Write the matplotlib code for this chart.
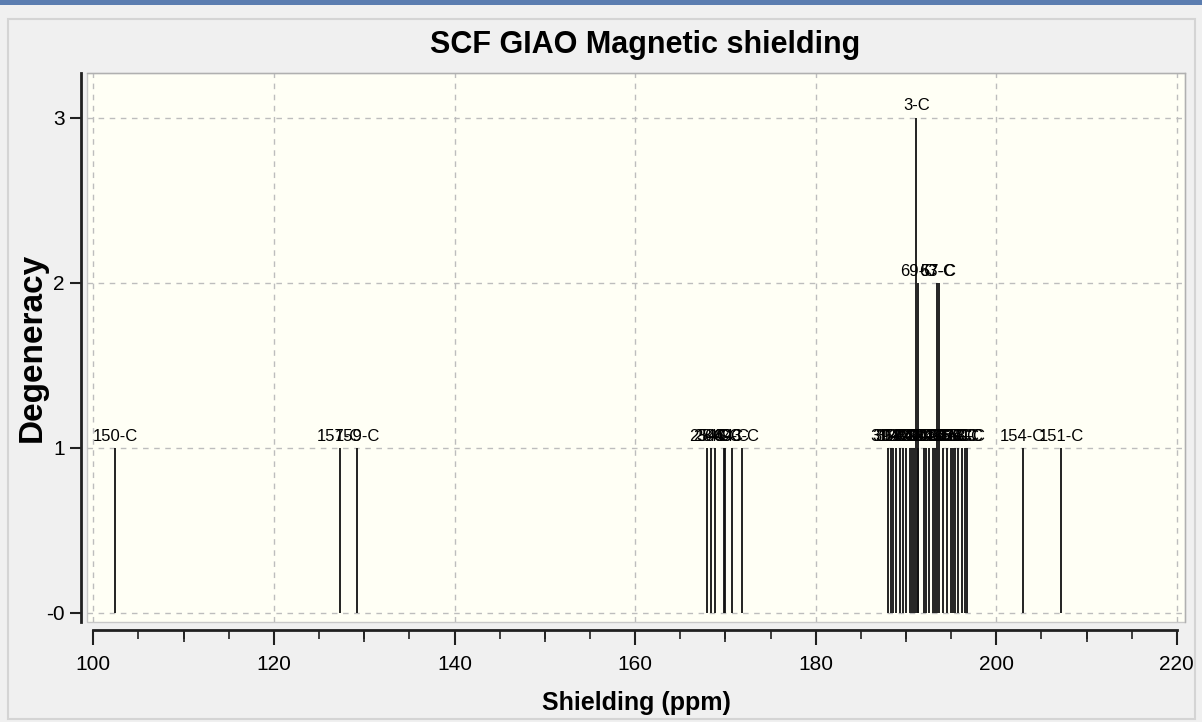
import matplotlib.pyplot as plt
from matplotlib.patches import Rectangle
from matplotlib.ticker import MultipleLocator

plt.rcParams['font.family'] = ['Liberation Sans', 'DejaVu Sans']

# shielding values (ppm), degeneracy and atom labels
shielding = [102.4, 127.3, 129.2,
             168.0, 168.44, 168.8, 169.85, 170.0, 170.72, 171.8,
             188.03, 188.29, 188.60, 188.90, 189.29, 189.62, 190.03, 190.39,
             190.70, 190.92, 191.38, 191.94, 192.27, 192.60, 192.95, 193.25,
             194.05, 194.50, 194.94, 195.16, 195.39, 195.72, 196.16, 196.50,
             196.72,
             191.30, 193.40, 193.62,
             191.16,
             202.93, 207.18]
degeneracy = [1, 1, 1,
              1, 1, 1, 1, 1, 1, 1,
              1, 1, 1, 1, 1, 1, 1, 1,
              1, 1, 1, 1, 1, 1, 1, 1,
              1, 1, 1, 1, 1, 1, 1, 1,
              1,
              2, 2, 2,
              3,
              1, 1]
labels = ['150-C', '157-C', '159-C',
          '25-C', '28-C', '30-C', '46-C', '45-C', '49-C', '43-C',
          '31-C', '39-C', '35-C', '12-C', '14-C', '18-C', '20-C', '22-C',
          '24-C', '27-C', '29-C', '33-C', '37-C', '41-C', '44-C', '47-C',
          '48-C', '52-C', '55-C', '60-C', '62-C', '65-C', '66-C', '68-C',
          '70-C',
          '69-C', '63-C', '57-C',
          '3-C',
          '154-C', '151-C']

fig = plt.figure(figsize=(12.02, 7.22), dpi=100, facecolor='#f0f0f0')

# window decorations
fig.patches.append(Rectangle((0, 1 - 5 / 722), 1, 5 / 722, transform=fig.transFigure,
                             facecolor='#5b7db0', edgecolor='none'))
fig.patches.append(Rectangle((8 / 1202, 3 / 722), 1187 / 1202, 700 / 722,
                             transform=fig.transFigure, facecolor='none',
                             edgecolor='#d4d4d4', lw=1.5))

ax = fig.add_axes([87 / 1202, 1 - 622 / 722, 1098 / 1202, 549 / 722])
ax.set_facecolor('#fffff5')
ax.patch.set_edgecolor('#c8c8c8')
ax.patch.set_linewidth(1)

ax.vlines(shielding, 0, degeneracy, color='#111111', lw=1.3, zorder=3)
for x, d, lab in zip(shielding, degeneracy, labels):
    ax.annotate(lab, (x, d), xytext=(0, 3), textcoords='offset points',
                ha='center', va='bottom', fontsize=12, color='black', zorder=4)

ax.set_xlim(99.3, 220.9)
ax.set_ylim(-0.055, 3.27)
ax.xaxis.set_major_locator(MultipleLocator(20))
ax.xaxis.set_minor_locator(MultipleLocator(5))
ax.set_yticks([0, 1, 2, 3])
ax.set_yticklabels(['-0', '1', '2', '3'])
ax.grid(True, which='major', ls=(0, (4, 4)), color='#bdbdbd', lw=1)
ax.set_axisbelow(True)

ax.spines['bottom'].set_position(('outward', 6))
ax.spines['bottom'].set_bounds(100, 220)
ax.spines['bottom'].set_linewidth(2)
ax.spines['bottom'].set_color('#202020')
ax.spines['left'].set_position(('outward', 4))
ax.spines['left'].set_linewidth(2)
ax.spines['left'].set_color('#202020')
for s in ['top', 'right']:
    ax.spines[s].set_color('#b0b0b0')
    ax.spines[s].set_linewidth(1)

ax.tick_params(axis='x', which='major', direction='out', length=11, width=1.5,
               pad=7, labelsize=15, color='#202020')
ax.tick_params(axis='x', which='minor', direction='out', length=6.5, width=1.2,
               color='#202020')
ax.tick_params(axis='y', direction='out', length=8, width=1.5, pad=4,
               labelsize=15, color='#202020')

# medium ticks every 10 ppm
ax2 = ax.twiny()
ax2.set_xlim(ax.get_xlim())
ax2.xaxis.set_ticks_position('bottom')
ax2.spines['bottom'].set_position(('outward', 6))
for s in ax2.spines.values():
    s.set_visible(False)
ax2.set_xticks([110, 130, 150, 170, 190, 210])
ax2.tick_params(axis='x', length=8.5, width=1.2, color='#202020',
                labelbottom=False, labeltop=False)

ax.set_xlabel('Shielding (ppm)', fontsize=18, fontweight='bold')
ax.xaxis.set_label_coords(0.5, -0.1475)
ax.xaxis.label.set_verticalalignment('center')
ax.set_ylabel('Degeneracy', fontsize=24, fontweight='bold')
ax.yaxis.set_label_coords(-0.05, 0.5)
ax.yaxis.label.set_verticalalignment('center')

fig.text(0.537, 1 - 45 / 722, 'SCF GIAO Magnetic shielding', ha='center',
         va='center', fontsize=22, fontweight='bold')

fig.savefig('out.png', dpi=100, facecolor=fig.get_facecolor())
